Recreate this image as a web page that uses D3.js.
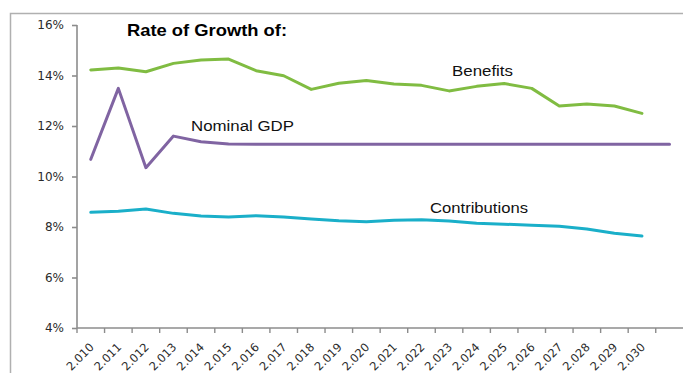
<!DOCTYPE html>
<html>
<head>
<meta charset="utf-8">
<script src="https://cdn.jsdelivr.net/npm/d3@7"></script>
<style>
  html, body { margin: 0; padding: 0; background: #fff; }
  svg { display: block; }
</style>
</head>
<body>
<svg id="chart" width="683" height="373"></svg>
<script>
// Year categories; the final slot is unlabeled and only carries the GDP series.
const years = ["2.010","2.011","2.012","2.013","2.014","2.015","2.016","2.017","2.018","2.019",
               "2.020","2.021","2.022","2.023","2.024","2.025","2.026","2.027","2.028","2.029","2.030",""];

// Growth rates in percent
const benefits = [14.22,14.30,14.15,14.48,14.61,14.65,14.19,13.99,13.45,13.69,
                  13.80,13.66,13.61,13.39,13.57,13.68,13.49,12.79,12.87,12.79,12.50];
const nominalGDP = [10.68,13.49,10.35,11.60,11.38,11.29,11.28,11.28,11.28,11.28,
                    11.28,11.28,11.28,11.28,11.28,11.28,11.28,11.28,11.28,11.28,11.28,11.28];
const contributions = [8.58,8.62,8.71,8.54,8.44,8.40,8.45,8.40,8.32,8.25,
                       8.21,8.27,8.29,8.24,8.15,8.11,8.07,8.03,7.92,7.75,7.64];

const yTicks = [4, 6, 8, 10, 12, 14, 16];

const svg = d3.select("#chart");
const labelFont = "'DejaVu Sans', sans-serif";
const textFont = "'Liberation Sans', Arial, sans-serif";

// Outer chart frame (runs off the right and bottom edges)
svg.append("rect")
  .attr("x", 10.5).attr("y", 13.5)
  .attr("width", 700).attr("height", 400)
  .attr("fill", "none").attr("stroke", "#b0b0b0").attr("stroke-width", 1.5);

const plot = { left: 77, right: 683.3, top: 25, bottom: 328 };

const x = d3.scaleBand().domain(years).range([plot.left, plot.right]).padding(0);
const y = d3.scaleLinear().domain([4, 16]).range([plot.bottom, plot.top]);

// Y axis
const yAxis = svg.append("g")
  .attr("transform", `translate(${plot.left},0)`)
  .call(d3.axisLeft(y).tickValues(yTicks).tickSize(5).tickPadding(8)
        .tickFormat(d => d + "%"));
yAxis.selectAll("path, line").attr("stroke", "#8c8c8c").attr("stroke-width", 1.6);
yAxis.select(".domain").attr("d", `M0,${plot.top}V${plot.bottom}`);
yAxis.selectAll("text")
  .attr("fill", "#2a2a2a").attr("font-size", 12)
  .attr("font-family", labelFont);

// X axis with ticks on category boundaries
const xg = svg.append("g").attr("transform", `translate(0,${plot.bottom})`);
xg.append("line")
  .attr("x1", plot.left).attr("x2", plot.right)
  .attr("stroke", "#8c8c8c").attr("stroke-width", 1.6);
const boundaries = years.map(d => x(d));
xg.selectAll("line.tick").data(boundaries).enter().append("line")
  .attr("class", "tick")
  .attr("x1", d => d).attr("x2", d => d)
  .attr("y1", 0).attr("y2", 5)
  .attr("stroke", "#8c8c8c").attr("stroke-width", 1.4);
xg.selectAll("text").data(years.filter(d => d !== "")).enter().append("text")
  .attr("transform", d => `translate(${x(d) + x.bandwidth() / 2 + 1},${17}) rotate(-45)`)
  .attr("text-anchor", "end")
  .attr("dy", "0.35em")
  .attr("fill", "#2a2a2a").attr("font-size", 11.5)
  .attr("font-family", labelFont)
  .text(d => d);

// Series lines
const line = d3.line()
  .x((d, i) => x(years[i]) + x.bandwidth() / 2)
  .y(d => y(d));

const series = [
  { values: benefits, color: "#80bc42" },
  { values: nominalGDP, color: "#8064a2" },
  { values: contributions, color: "#1aafc9" }
];
svg.selectAll("path.series").data(series).enter().append("path")
  .attr("class", "series")
  .attr("d", d => line(d.values))
  .attr("fill", "none")
  .attr("stroke", d => d.color)
  .attr("stroke-width", 3)
  .attr("stroke-linejoin", "round")
  .attr("stroke-linecap", "round");

// Title and series labels
svg.append("text")
  .attr("x", 127).attr("y", 36)
  .attr("font-family", textFont).attr("font-weight", "bold").attr("font-size", 16.5)
  .attr("textLength", 160).attr("lengthAdjust", "spacingAndGlyphs")
  .attr("fill", "#000")
  .text("Rate of Growth of:");

const labels = [
  { text: "Benefits", x: 452, y: 75.5, w: 61 },
  { text: "Nominal GDP", x: 191, y: 131, w: 103 },
  { text: "Contributions", x: 430, y: 212.5, w: 98 }
];
svg.selectAll("text.lbl").data(labels).enter().append("text")
  .attr("class", "lbl")
  .attr("x", d => d.x).attr("y", d => d.y)
  .attr("font-family", textFont).attr("font-size", 15.5)
  .attr("textLength", d => d.w).attr("lengthAdjust", "spacingAndGlyphs")
  .attr("fill", "#111")
  .text(d => d.text);
</script>
</body>
</html>
